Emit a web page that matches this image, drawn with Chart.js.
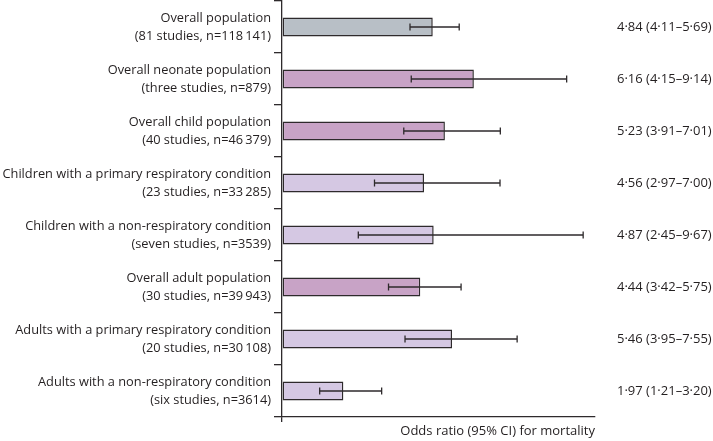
<!DOCTYPE html>
<html>
 <head>
  <meta charset="utf-8">
  <title>Odds ratio for mortality</title>
  <script src="https://cdn.jsdelivr.net/npm/chart.js"></script>
  <style>
    html, body { margin: 0; padding: 0; background: #ffffff; }
    #wrap { width: 713px; height: 441px; }
  </style>
 </head>
 <body>
  <div id="wrap"><canvas id="myChart" width="713" height="441"></canvas></div>
  <script type="text/javascript">
    // groups, top to bottom
    const groups = [
        ["Overall population", "(81 studies, n=118\u2009141)"],
        ["Overall neonate population", "(three studies, n=879)"],
        ["Overall child population", "(40 studies, n=46\u2009379)"],
        ["Children with a primary respiratory condition", "(23 studies, n=33\u2009285)"],
        ["Children with a non-respiratory condition", "(seven studies, n=3539)"],
        ["Overall adult population", "(30 studies, n=39\u2009943)"],
        ["Adults with a primary respiratory condition", "(20 studies, n=30\u2009108)"],
        ["Adults with a non-respiratory condition", "(six studies, n=3614)"]
    ];
    const oddsRatio = [4.84, 6.16, 5.23, 4.56, 4.87, 4.44, 5.46, 1.97];
    const ciLow = [4.11, 4.15, 3.91, 2.97, 2.45, 3.42, 3.95, 1.21];
    const ciHigh = [5.69, 9.14, 7.01, 7.00, 9.67, 5.75, 7.55, 3.20];
    const groupKind = ["all", "sub", "sub", "cond", "cond", "sub", "cond", "cond"];

    const kindColours = { all: "#b8bfc6", sub: "#c8a3c6", cond: "#d5c8e3" };
    const ink = "#2e2a2c";
    const fontFamily = "'Open Sans', sans-serif";

    function fmt(v) {
        return v.toFixed(2).replace(".", "\u00b7");
    }
    const ciLabels = oddsRatio.map((v, i) => fmt(v) + " (" + fmt(ciLow[i]) + "\u2013" + fmt(ciHigh[i]) + ")");

    // draws the 95% CI whiskers on top of the bars
    const errorBars = {
        id: "errorBars",
        afterDatasetsDraw(chart) {
            const ctx = chart.ctx;
            const xs = chart.scales.x;
            const ys = chart.scales.y;
            ctx.save();
            ctx.strokeStyle = ink;
            ctx.lineWidth = 1.3;
            for (let i = 0; i < oddsRatio.length; i++) {
                const y = ys.getPixelForValue(i);
                const x1 = xs.getPixelForValue(ciLow[i]);
                const x2 = xs.getPixelForValue(ciHigh[i]);
                ctx.beginPath();
                ctx.moveTo(x1, y); ctx.lineTo(x2, y);
                ctx.moveTo(x1, y - 3.5); ctx.lineTo(x1, y + 3.5);
                ctx.moveTo(x2, y - 3.5); ctx.lineTo(x2, y + 3.5);
                ctx.stroke();
            }
            ctx.restore();
        }
    };

    var ctx = document.getElementById("myChart").getContext("2d");
    var myChart = new Chart(ctx, {
        type: "bar",
        data: {
            labels: groups,
            datasets: [{
                data: oddsRatio,
                backgroundColor: groupKind.map(k => kindColours[k]),
                borderColor: ink,
                borderWidth: 1.5,
                borderSkipped: false,
                categoryPercentage: 1,
                barPercentage: 0.37
            }]
        },
        options: {
            indexAxis: "y",
            responsive: false,
            animation: false,
            devicePixelRatio: 1,
            layout: { padding: { top: 1, left: 0, right: 0, bottom: 0 } },
            plugins: { legend: { display: false }, tooltip: { enabled: false } },
            scales: {
                x: {
                    type: "linear",
                    min: 0,
                    max: 10.05,
                    afterBuildTicks: s => { s.ticks = [{ value: 0 }]; },
                    afterFit: s => { s.height = 24; s.paddingLeft = 0; s.paddingRight = 0; },
                    ticks: { display: false },
                    grid: { display: true, drawOnChartArea: false, drawTicks: true, tickLength: 5, color: ink, lineWidth: 1.3 },
                    border: { display: true, color: ink, width: 1.3 },
                    title: {
                        display: true,
                        text: "Odds ratio (95% CI) for mortality",
                        align: "end",
                        color: "#231f20",
                        font: { family: fontFamily, size: 13, lineHeight: 1.2 },
                        padding: { top: 0, bottom: 1.5 }
                    }
                },
                y: {
                    type: "category",
                    position: "left",
                    offset: true,
                    afterFit: s => { s.width = 282; s.paddingTop = 0; s.paddingBottom = 0; },
                    ticks: {
                        color: "#231f20",
                        padding: 3,
                        font: { family: fontFamily, size: 12.8, lineHeight: 1.42 }
                    },
                    grid: { display: true, offset: true, drawOnChartArea: false, drawTicks: true, tickLength: 8, color: ink, lineWidth: 1.3 },
                    border: { display: true, color: ink, width: 1.3 }
                },
                y2: {
                    type: "category",
                    position: "right",
                    labels: ciLabels,
                    offset: true,
                    afterFit: s => { s.width = 118; s.paddingTop = 0; s.paddingBottom = 0; },
                    ticks: {
                        color: "#231f20",
                        padding: 14,
                        font: { family: fontFamily, size: 13 }
                    },
                    grid: { display: false },
                    border: { display: false }
                }
            }
        },
        plugins: [errorBars]
    });
  </script>
 </body>
</html>
